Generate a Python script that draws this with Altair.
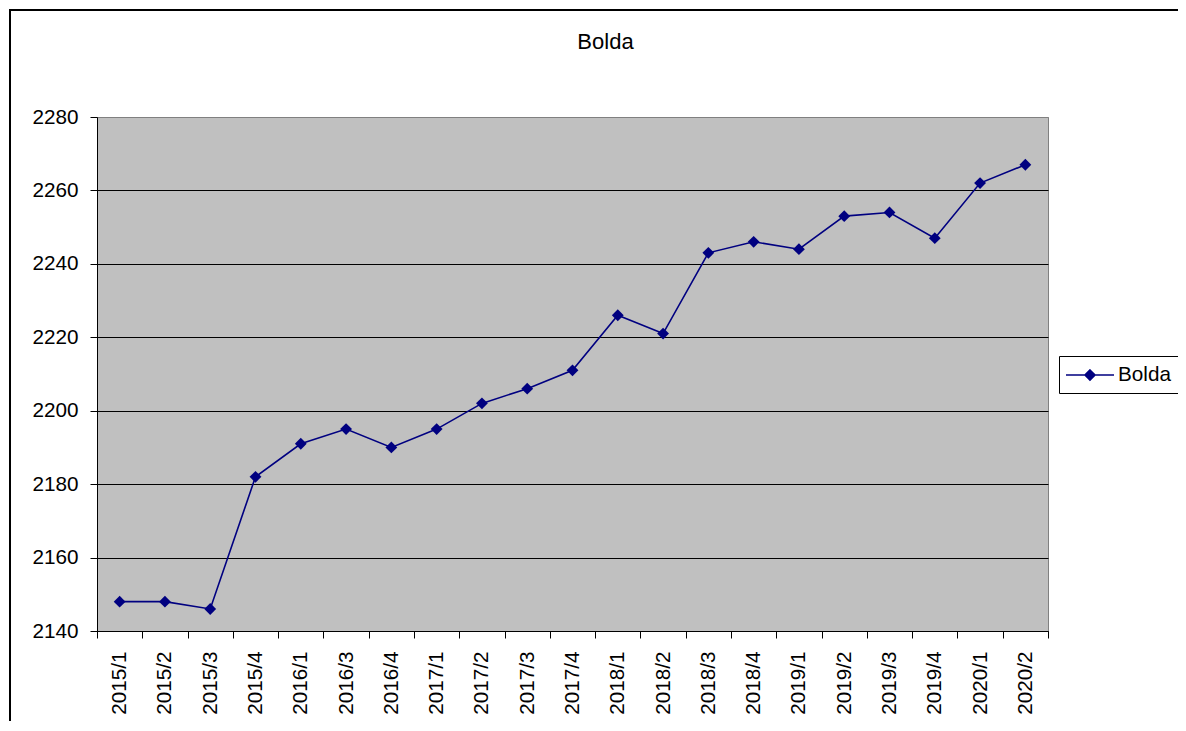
import altair as alt
import pandas as pd

categories = ["2015/1", "2015/2", "2015/3", "2015/4", "2016/1", "2016/3", "2016/4",
              "2017/1", "2017/2", "2017/3", "2017/4", "2018/1", "2018/2", "2018/3",
              "2018/4", "2019/1", "2019/2", "2019/3", "2019/4", "2020/1", "2020/2"]
values = [2148, 2148, 2146, 2182, 2191, 2195, 2190, 2195, 2202, 2206, 2211,
          2226, 2221, 2243, 2246, 2244, 2253, 2254, 2247, 2262, 2267]
series_name = "Bolda"
title_text = "Bolda"
y_ticks = [2140, 2160, 2180, 2200, 2220, 2240, 2260, 2280]

df = pd.DataFrame({"period": categories, "value": values,
                   "series": [series_name] * len(categories)})
one = pd.DataFrame({"t": [title_text]})

NAVY = "#000080"
FONT = "Liberation Sans"
FS = 20.7

x_enc = alt.X("period:N", sort=categories,
              scale=alt.Scale(type="band", paddingInner=0, paddingOuter=0),
              axis=alt.Axis(title=None, labelAngle=270, tickBand="extent",
                            labelFont=FONT, labelFontSize=FS, labelColor="black",
                            tickColor="black", tickSize=7, tickWidth=1,
                            domainColor="black", domainWidth=1,
                            labelPadding=13, grid=False, labelOverlap=False))
y_enc = alt.Y("value:Q",
              scale=alt.Scale(domain=[2140, 2280], nice=False, zero=False),
              axis=alt.Axis(title=None, values=y_ticks, format="d", grid=True,
                            gridColor={"condition": {"test": "datum.value == 2280", "value": "#808080"},
                                       "value": "black"},
                            gridWidth=1, labelFont=FONT, labelFontSize=FS,
                            labelColor="black", tickColor="black", tickSize=7,
                            domainColor="black", labelPadding=12))

frame = alt.Chart(one).mark_rect(fill="transparent", stroke="black", strokeWidth=2,
                                 clip=False).encode(
    x=alt.value(-87), x2=alt.value(1300), y=alt.value(-107), y2=alt.value(800))

title = alt.Chart(one).mark_text(font=FONT, fontSize=22, color="black",
                                 align="center", baseline="alphabetic").encode(
    x=alt.value(508.5), y=alt.value(-68), text="t:N")

legend_path = "M-2.4,0H2.4M0,-0.5L0.5,0L0,0.5L-0.5,0Z"

line = alt.Chart(df).mark_line(strokeWidth=1.6).encode(
    x=x_enc, y=y_enc,
    color=alt.Color("series:N", scale=alt.Scale(range=[NAVY]),
                    legend=alt.Legend(title=None, orient="none", legendX=962, legendY=239,
                                      strokeColor="black", fillColor="white", padding=8,
                                      symbolType=legend_path, symbolSize=400,
                                      symbolOffset=12, labelOffset=17,
                                      labelFont=FONT, labelFontSize=FS, labelColor="black",
                                      symbolFillColor=NAVY, symbolStrokeColor=NAVY,
                                      symbolStrokeWidth=1.6, symbolOpacity=1)))

points = alt.Chart(df).mark_point(shape="diamond", filled=True, size=140,
                                  color=NAVY, opacity=1).encode(x=x_enc, y=y_enc)

chart = alt.layer(frame, line, points, title).properties(
    width=951, height=514,
    autosize=alt.AutoSizeParams(type="none"),
    padding={"left": 89, "top": 109, "right": 130, "bottom": 90},
    background="white",
).configure_view(fill="#C0C0C0", stroke="#808080", strokeWidth=1)

chart.save("out.html", embed_options={"renderer": "svg", "actions": False})
